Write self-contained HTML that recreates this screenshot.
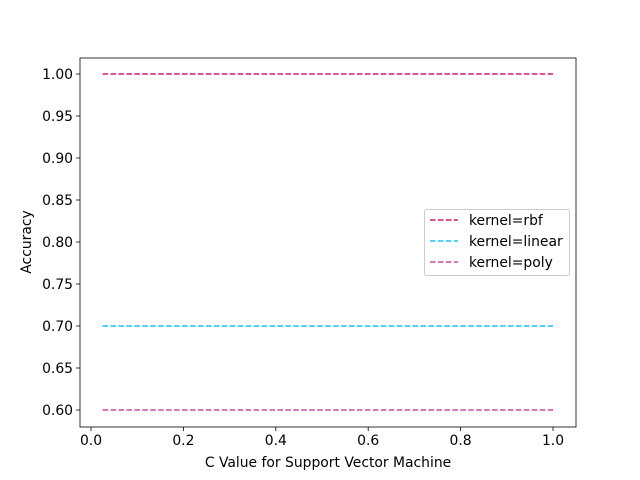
<!DOCTYPE html>
<html><head><meta charset="utf-8"><style>body{margin:0;background:#fff}svg{display:block;font-family:"DejaVu Sans","Liberation Sans",sans-serif}</style></head>
<body>
<svg id="chart" width="640" height="480" viewBox="0 0 640 480" xmlns="http://www.w3.org/2000/svg">
<rect width="640" height="480" fill="#fff"/>
<g id="plot"></g>
<text x="328" y="467" font-size="13.9" text-anchor="middle">C Value for Support Vector Machine</text>
<text x="31" y="242" font-size="13.9" text-anchor="middle" transform="rotate(-90 31 242)">Accuracy</text>
</svg>
<script>
const cValues = [0.025, 0.1, 0.2, 0.3, 0.4, 0.5, 0.6, 0.7, 0.8, 0.9, 1.0];
const rbfAcc = [1.0, 1.0, 1.0, 1.0, 1.0, 1.0, 1.0, 1.0, 1.0, 1.0, 1.0];
const linearAcc = [0.7, 0.7, 0.7, 0.7, 0.7, 0.7, 0.7, 0.7, 0.7, 0.7, 0.7];
const polyAcc = [0.6, 0.6, 0.6, 0.6, 0.6, 0.6, 0.6, 0.6, 0.6, 0.6, 0.6];
const seriesNames = ["kernel=rbf", "kernel=linear", "kernel=poly"];
const xTicks = [0.0, 0.2, 0.4, 0.6, 0.8, 1.0];
const yTicks = [0.60, 0.65, 0.70, 0.75, 0.80, 0.85, 0.90, 0.95, 1.00];

const NS = "http://www.w3.org/2000/svg";
const L = 80, R = 576, T = 58, B = 427;
const xs = v => 91 + v * 462;
const ys = v => 410 - (v - 0.6) * 840;
const g = document.getElementById('plot');
function mk(tag, attrs, parent) {
  const e = document.createElementNS(NS, tag);
  for (const k in attrs) e.setAttribute(k, attrs[k]);
  (parent || g).appendChild(e);
  return e;
}
const colors = ["#d11f6e", "#1ec4f4", "#c84aa9"];
const data = [rbfAcc, linearAcc, polyAcc];
data.forEach((arr, i) => {
  const pts = arr.map((v, j) => xs(cValues[j]).toFixed(2) + "," + ys(v).toFixed(2)).join(" ");
  const pl = mk('polyline', {points: pts, fill: "none", stroke: colors[i], "stroke-width": 1.5, "stroke-dasharray": "5.55,2.4"});
  
  
});
xTicks.forEach(t => {
  const x = xs(t);
  const tk = mk('line', {x1: x, x2: x, y1: B, y2: B + 4, stroke: "#000", "stroke-width": 0.8});
  
  
  const tx = mk('text', {x: x, y: B + 18, "font-size": 13.9, "text-anchor": "middle"});
  tx.textContent = t.toFixed(1);
  
  
});
yTicks.forEach(t => {
  const y = ys(t);
  const tk = mk('line', {x1: L - 4, x2: L, y1: y, y2: y, stroke: "#000", "stroke-width": 0.8});
  
  
  const tx = mk('text', {x: L - 7, y: y + 5, "font-size": 13.9, "text-anchor": "end"});
  tx.textContent = t.toFixed(2);
  
  
});
const frame = mk('rect', {x: L, y: T, width: R - L, height: B - T, fill: "none", stroke: "#000", "stroke-width": 0.8});


const lg = mk('g', {});


mk('rect', {x: 424.5, y: 209.5, width: 145, height: 66, rx: 2, fill: "#fff", "fill-opacity": 0.8, stroke: "#ccc", "stroke-width": 1}, lg);
seriesNames.forEach((n, i) => {
  const y = 220 + i * 21;
  const ln = mk('line', {x1: 430, x2: 458, y1: y, y2: y, stroke: colors[i], "stroke-width": 1.5, "stroke-dasharray": "5.55,2.4"}, lg);
  
  
  const tx = mk('text', {x: 469, y: y + 5, "font-size": 13.9}, lg);
  tx.textContent = n;
  
  
});
</script>
</body></html>
